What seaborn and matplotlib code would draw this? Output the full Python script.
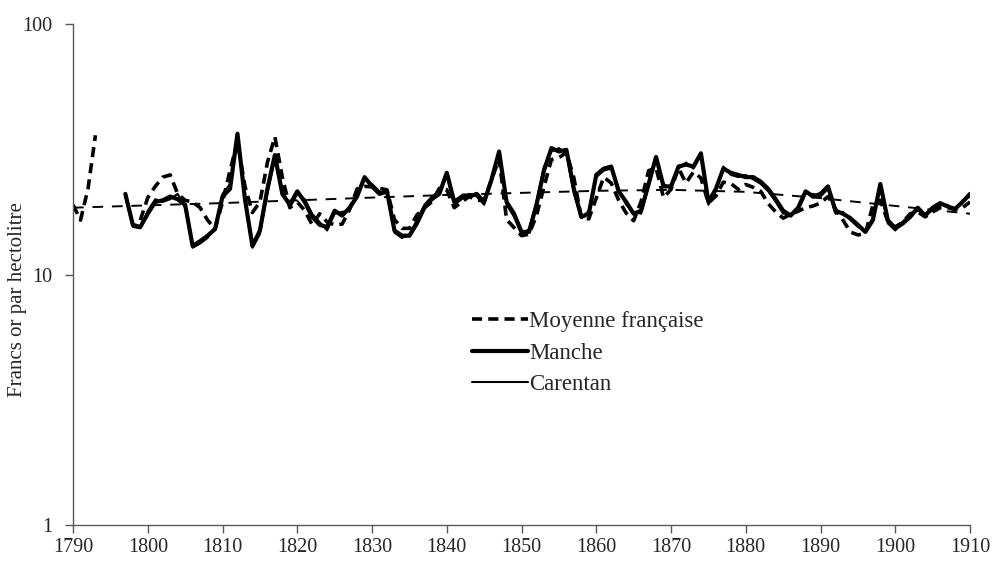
import numpy as np
import pandas as pd
import matplotlib
matplotlib.use('Agg')
from matplotlib import pyplot as plt
from matplotlib.ticker import NullLocator
import seaborn as sns

# Prix du blé, francs or par hectolitre
annees_moy_1 = [1790, 1791, 1792, 1793]
moyenne_1 = [19.0, 16.5, 22.0, 36.0]

annees_moy_2 = list(range(1799, 1911))
moyenne_2 = [16.5, 20.3, 22.5, 24.5, 25.0, 21.0, 19.8, 19.5, 18.5, 16.5,
             15.2, 19.5, 26.0, 34.0, 22.5, 17.7, 19.5, 28.0, 35.5, 24.5,
             18.5, 19.5, 18.0, 15.8, 17.5, 16.2, 15.8, 15.9, 18.2, 22.0,
             22.5, 22.4, 22.1, 21.8, 16.6, 15.3, 15.3, 17.3, 18.5, 19.5,
             22.1, 21.8, 18.5, 19.5, 20.5, 19.8, 19.8, 24.0, 29.0, 16.6,
             15.4, 14.3, 14.5, 17.2, 22.4, 28.8, 29.3, 30.7, 24.4, 16.8,
             16.7, 20.2, 24.5, 23.2, 19.8, 17.6, 16.4, 19.6, 26.0, 26.6,
             20.3, 21.9, 26.6, 23.2, 25.7, 24.3, 19.3, 20.6, 23.4, 23.1,
             21.9, 22.9, 22.3, 21.5, 19.2, 17.8, 16.8, 17.4, 17.9, 18.5,
             18.8, 19.3, 20.5, 18.3, 16.5, 14.8, 14.4, 14.6, 18.9, 19.8,
             16.3, 15.5, 16.2, 17.5, 17.8, 17.0, 17.8, 18.5, 18.5, 18.2,
             18.5, 19.5]

annees_dep = list(range(1797, 1911))
manche = [21.0, 15.8, 15.5, 17.5, 19.5, 19.8, 20.5, 20.0, 19.0, 13.0,
          13.6, 14.3, 15.2, 20.5, 22.0, 36.5, 20.0, 13.0, 15.0, 22.0,
          30.0, 21.0, 19.0, 21.5, 19.5, 17.0, 15.8, 15.5, 18.0, 17.2,
          18.5, 20.5, 24.5, 22.5, 21.0, 21.5, 15.0, 14.3, 14.3, 16.0,
          18.5, 20.0, 21.0, 25.5, 19.5, 20.5, 20.5, 21.0, 19.5, 24.0,
          31.0, 19.5, 17.5, 14.8, 14.8, 19.0, 26.0, 32.0, 31.0, 31.5,
          22.0, 17.0, 17.5, 25.0, 26.5, 27.0, 21.5, 19.5, 17.5, 18.0,
          23.0, 29.5, 22.5, 22.5, 27.0, 27.5, 27.0, 30.5, 19.5, 22.0,
          26.5, 25.5, 25.0, 24.5, 24.5, 23.5, 22.0, 20.0, 18.0, 17.2,
          18.5, 21.5, 20.5, 21.0, 22.5, 18.0, 17.5, 16.8, 15.8, 14.8,
          16.5, 23.0, 16.5, 15.3, 16.0, 17.0, 18.5, 17.2, 18.5, 19.3,
          18.7, 18.3, 19.5, 21.0]
carentan = [20.5, 15.5, 15.3, 18.0, 20.0, 19.5, 20.0, 21.0, 18.5, 12.8,
            13.3, 14.0, 15.5, 21.0, 23.0, 35.5, 21.0, 12.8, 14.5, 21.0,
            29.0, 22.0, 18.5, 21.0, 20.0, 17.5, 16.2, 15.0, 17.5, 17.8,
            18.0, 21.0, 24.0, 23.0, 21.5, 21.0, 14.7, 14.0, 14.5, 16.5,
            19.0, 20.5, 21.5, 25.0, 19.0, 20.0, 21.0, 20.5, 19.0, 24.5,
            30.5, 19.0, 17.0, 14.5, 15.2, 19.5, 27.0, 31.0, 32.0, 30.5,
            21.0, 16.8, 18.0, 24.5, 26.0, 26.5, 22.0, 19.0, 17.8, 17.5,
            22.5, 29.0, 23.0, 22.0, 26.5, 28.0, 26.5, 30.0, 19.0, 21.5,
            27.0, 25.0, 24.5, 25.0, 24.0, 23.0, 21.5, 19.5, 17.5, 17.5,
            18.0, 21.0, 21.0, 20.5, 22.0, 17.5, 17.8, 16.5, 15.5, 15.0,
            16.8, 22.5, 16.0, 15.0, 16.3, 17.3, 18.0, 17.5, 18.0, 19.0,
            19.0, 18.0, 19.8, 20.5]

annees_tend = [1790, 1800, 1810, 1820, 1830, 1840, 1850, 1860, 1870, 1880, 1890, 1900, 1910]
tendance = [18.5, 18.9, 19.3, 19.8, 20.3, 20.8, 21.2, 21.6, 21.8, 21.4, 20.2, 18.8, 17.5]

moy = pd.DataFrame({
    'annee': annees_moy_1 + annees_moy_2,
    'prix': moyenne_1 + moyenne_2,
    'segment': [1] * len(annees_moy_1) + [2] * len(annees_moy_2),
})
dep = pd.DataFrame({'annee': annees_dep, 'manche': manche, 'carentan': carentan})
tend = pd.DataFrame({'annee': annees_tend, 'prix': tendance})

sns.set_style('ticks')
plt.rcParams['font.family'] = ['Liberation Serif', 'DejaVu Serif']

fig = plt.figure(figsize=(9.95, 5.61), dpi=100)
ax = fig.add_axes([0.0734, 0.064, 0.9015, 0.893])

sns.lineplot(data=moy, x='annee', y='prix', units='segment', estimator=None,
             color='black', lw=2.6, linestyle=(0, (2.8, 1.7)), ax=ax)
l_moy = ax.get_lines()[-1]
sns.lineplot(data=dep, x='annee', y='manche', color='black', lw=3.0, ax=ax)
l_manche = ax.get_lines()[-1]
sns.lineplot(data=dep, x='annee', y='carentan', color='black', lw=1.5, ax=ax)
l_carentan = ax.get_lines()[-1]
sns.lineplot(data=tend, x='annee', y='prix', color='black', lw=1.4,
             linestyle=(0, (5.5, 4.5)), ax=ax)

ax.set_yscale('log')
ax.set_ylim(1, 100)
ax.set_xlim(1790, 1910)
ax.set_xticks(range(1790, 1911, 10))
ax.set_yticks([1, 10, 100])
ax.set_yticklabels(['1', '10', '100'])
ax.yaxis.set_minor_locator(NullLocator())
ax.set_xlabel('')
ax.set_ylabel('Francs or par hectolitre', fontsize=15)
ax.yaxis.set_label_coords(-0.051, 0.45)
ax.tick_params(axis='both', labelsize=14.5, length=6, color='#595959', width=1)
ax.tick_params(axis='y', pad=9)
for cote in ['top', 'right']:
    ax.spines[cote].set_visible(False)
for cote in ['left', 'bottom']:
    ax.spines[cote].set_color('#595959')
    ax.spines[cote].set_linewidth(1)

ax.legend([l_moy, l_manche, l_carentan], ['Moyenne française', 'Manche', 'Carentan'],
          loc='upper left', bbox_to_anchor=(0.422, 0.468), frameon=False,
          fontsize=16.5, handlelength=2.45, handletextpad=0.05, labelspacing=0.45)

fig.savefig('out.png', dpi=100)
